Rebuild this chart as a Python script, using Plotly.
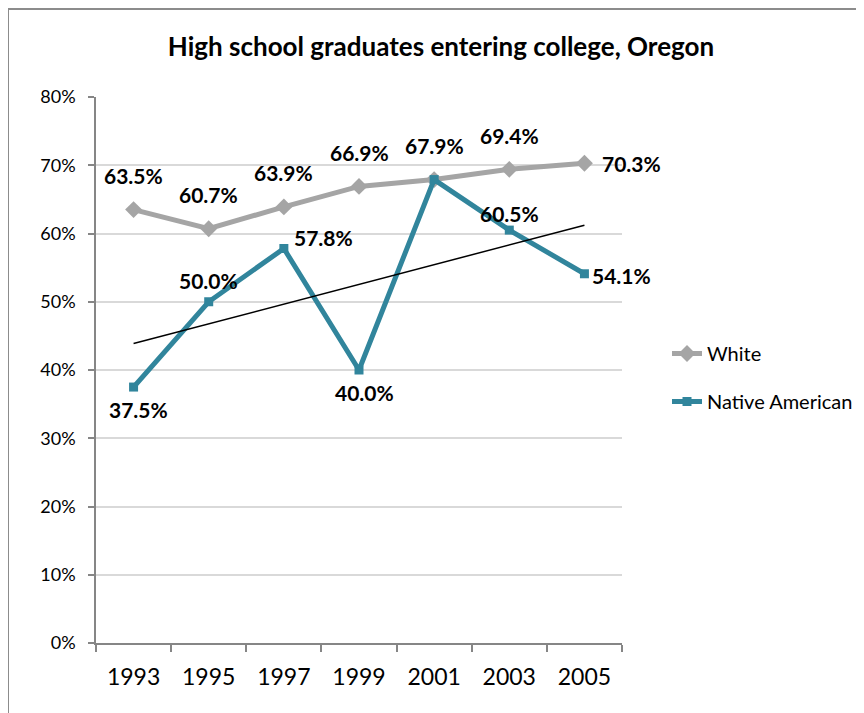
import numpy as np
import plotly.graph_objs as go

# data
years = ['1993', '1995', '1997', '1999', '2001', '2003', '2005']
white = [63.5, 60.7, 63.9, 66.9, 67.9, 69.4, 70.3]
native = [37.5, 50.0, 57.8, 40.0, 67.9, 60.5, 54.1]

GRAY = '#A5A5A5'
TEAL = '#31859C'
AXIS = '#868686'
GRID = '#D9D9D9'
FONT = 'Lato, Open Sans, sans-serif'

# label placement: (xanchor, yanchor, xshift, yshift)
ABOVE_W = ('center', 'middle', 0, 34)
ABOVE_N = ('center', 'middle', 0, 21)
BELOW = ('center', 'middle', 5, -22)
RIGHT = ('left', 'middle', 16, 0)
white_place = [ABOVE_W] * 6 + [RIGHT]
native_place = [BELOW, ABOVE_N, ('left', 'middle', 8, 11), BELOW, None, ('center', 'middle', 0, 17), ('left', 'middle', 6, -2)]

xi = np.arange(len(years))
slope, icept = np.polyfit(xi, native, 1)
trend = slope * xi + icept

# the page adds an 8px body margin, so the figure is 8px smaller than the window
W, H = 856, 705
L, T, PW, PH = 88, 89, 526, 546

fig = go.Figure()
fig.add_trace(go.Scatter(x=years, y=[v / 100 for v in white], name='White', mode='lines+markers',
                         line=dict(color=GRAY, width=5),
                         marker=dict(symbol='diamond', size=13, color=GRAY),
                         legendgroup='w'))
fig.add_trace(go.Scatter(x=years, y=[v / 100 for v in native], name='Native American', mode='lines+markers',
                         line=dict(color=TEAL, width=5),
                         marker=dict(symbol='square', size=9, color=TEAL),
                         legendgroup='n'))
fig.add_trace(go.Scatter(x=years, y=trend / 100, mode='lines', showlegend=False,
                         line=dict(color='black', width=1.5), hoverinfo='skip'))

annotations = []
for vals, places in ((white, white_place), (native, native_place)):
    for i, (v, p) in enumerate(zip(vals, places)):
        if p is None:
            continue
        xa, ya, xs, ys = p
        annotations.append(dict(x=i, y=v / 100, xref='x', yref='y', text='<b>%.1f%%</b>' % v,
                                showarrow=False, xanchor=xa, yanchor=ya, xshift=xs, yshift=ys,
                                font=dict(family=FONT, size=21, color='black')))

fig.update_layout(
    width=W, height=H,
    margin=dict(l=L, r=W - L - PW, t=T, b=H - T - PH, autoexpand=False),
    paper_bgcolor='white', plot_bgcolor='white',
    font=dict(family=FONT, color='black'),
    title=dict(text='<b>High school graduates entering college, Oregon</b>',
               x=433 / W, xref='container', xanchor='center',
               y=1 - 39 / H, yref='container', yanchor='middle',
               font=dict(family=FONT, size=26, color='black')),
    legend=dict(x=(659 - L) / PW, y=(T + PH - 326) / PH, xanchor='left', yanchor='top',
                font=dict(family=FONT, size=20, color='black'),
                tracegroupgap=19, bgcolor='rgba(0,0,0,0)'),
    annotations=annotations,
    shapes=[dict(type='rect', xref='paper', yref='paper',
                 x0=(0 - L) / PW, x1=(W + 40 - L) / PW,
                 y0=(T + PH - H - 40) / PH, y1=(T + PH - 1) / PH,
                 line=dict(color='#8C8C8C', width=2), layer='below')],
)
fig.update_xaxes(type='category', range=[-0.5, 6.5], tickson='boundaries',
                 ticks='outside', ticklen=7, tickcolor=AXIS, tickwidth=1.5,
                 showline=True, linecolor=AXIS, linewidth=1.5, showgrid=False,
                 ticklabelstandoff=13,
                 tickfont=dict(family=FONT, size=23, color='black'))
fig.update_yaxes(range=[0, 0.8], dtick=0.1, tickformat='.0%',
                 ticks='outside', ticklen=6, tickcolor=AXIS, tickwidth=1.5,
                 showline=True, linecolor=AXIS, linewidth=1.5,
                 showgrid=True, gridcolor=GRID, gridwidth=1.5, zeroline=False,
                 ticklabelstandoff=9,
                 tickfont=dict(family=FONT, size=18, color='black'))

fig.write_html('out.html')
